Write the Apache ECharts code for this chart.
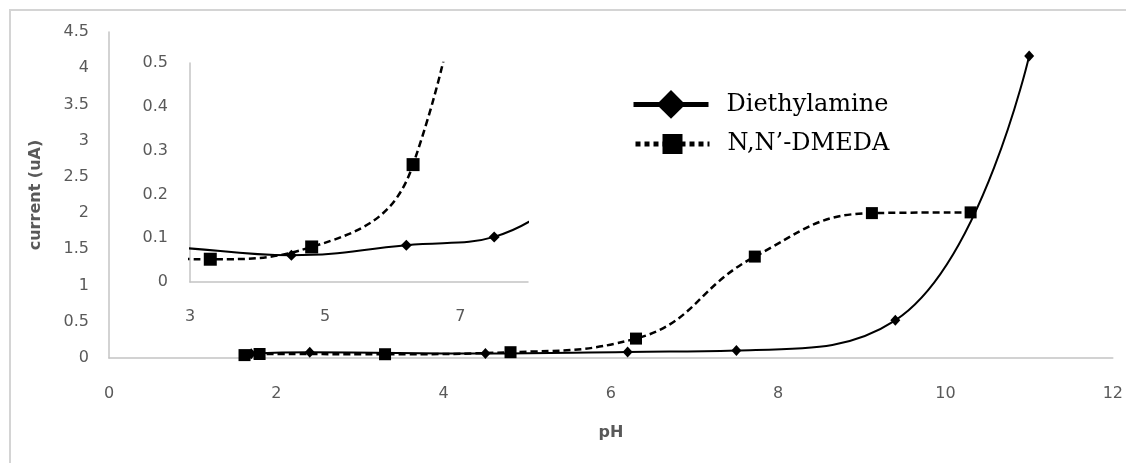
<!DOCTYPE html>
<html>
<head>
<meta charset="utf-8">
<script src="https://cdn.jsdelivr.net/npm/echarts@6/dist/echarts.min.js"></script>
<style>html,body{margin:0;padding:0;background:#fff}#c{width:1126px;height:463px}</style>
</head>
<body>
<div id="c"></div>
<script>
// ---- data ----
const seriesNames = ['Diethylamine', 'N,N’-DMEDA'];
const diethylaminePH = [1.7, 2.4, 4.5, 6.2, 7.5, 9.4, 11.0];
const diethylamineCurrent = [0.06, 0.08, 0.061, 0.084, 0.103, 0.52, 4.17];
const dmedaPH = [1.62, 1.8, 3.3, 4.8, 6.3, 7.72, 9.12, 10.3];
const dmedaCurrent = [0.04, 0.055, 0.052, 0.08, 0.268, 1.40, 2.0, 2.01];
// axis ranges [min, max, interval]
const mainXRange = [0, 12, 2];
const mainYRange = [0, 4.5, 0.5];
const insetXRange = [3, 8, 2];
const insetYRange = [0, 0.5, 0.1];
const xTitle = 'pH';
const yTitle = 'current (uA)';

const zip = (xs, ys) => xs.map((x, i) => [x, ys[i]]);
const dieData = zip(diethylaminePH, diethylamineCurrent);
const dmeData = zip(dmedaPH, dmedaCurrent);

const labelStyle = {color: '#595959', fontSize: 16, fontFamily: 'DejaVu Sans'};
const axisLineStyle = {lineStyle: {color: '#c4c4c4', width: 1.5}};
const SMOOTH = 0.45;

function valueAxis(grid, r, extra) {
  return Object.assign({
    type: 'value', gridIndex: grid, min: r[0], max: r[1], interval: r[2],
    axisLine: Object.assign({show: true, onZero: false}, axisLineStyle),
    axisTick: {show: false},
    splitLine: {show: false}
  }, extra);
}

const chart = echarts.init(document.getElementById('c'), null, {renderer: 'canvas'});
chart.setOption({
  animation: false,
  backgroundColor: '#ffffff',
  graphic: [{
    type: 'rect', silent: true, z: -10,
    shape: {x: 10, y: 10, width: 1200, height: 500},
    style: {fill: null, stroke: '#d4d4d4', lineWidth: 2}
  }],
  grid: [
    {left: 109, right: 11, top: 32, bottom: 105},
    {left: 190, right: 598, top: 63, bottom: 181}
  ],
  xAxis: [
    valueAxis(0, mainXRange, {
      axisLabel: Object.assign({margin: 28}, labelStyle),
      name: xTitle, nameLocation: 'middle', nameGap: 67,
      nameTextStyle: {fontWeight: 'bold', fontSize: 16, color: '#595959', fontFamily: 'DejaVu Sans'}
    }),
    valueAxis(1, insetXRange, {
      axisLabel: Object.assign({margin: 27, showMaxLabel: false}, labelStyle)
    })
  ],
  yAxis: [
    valueAxis(0, mainYRange, {
      axisLabel: Object.assign({margin: 20}, labelStyle),
      name: yTitle, nameLocation: 'middle', nameGap: 65, nameRotate: 90,
      nameTextStyle: {fontWeight: 'bold', fontSize: 16, color: '#595959', fontFamily: 'DejaVu Sans'}
    }),
    valueAxis(1, insetYRange, {
      axisLabel: Object.assign({margin: 22}, labelStyle)
    })
  ],
  legend: [
    {
      data: [seriesNames[0]], selectedMode: false, padding: 0,
      left: 631, top: 90, itemWidth: 75, itemHeight: 36,
      lineStyle: {width: 5, type: 'solid', color: '#000'},
      itemStyle: {color: '#000'},
      textStyle: {fontFamily: 'DejaVu Serif', fontSize: 24, color: '#000', padding: [0, 0, 0, 13]}
    },
    {
      data: [seriesNames[1]], selectedMode: false, padding: 0,
      left: 633, top: 132, itemWidth: 74, itemHeight: 25,
      lineStyle: {width: 5, type: [5, 4], color: '#000'},
      itemStyle: {color: '#000'},
      textStyle: {fontFamily: 'DejaVu Serif', fontSize: 24, color: '#000', padding: [0, 0, 0, 13]}
    }
  ],
  series: [
    {
      name: seriesNames[0], type: 'line', xAxisIndex: 0, yAxisIndex: 0,
      data: dieData, smooth: SMOOTH, symbol: 'diamond', symbolSize: [10, 11],
      lineStyle: {color: '#000', width: 2}, itemStyle: {color: '#000'}, clip: true
    },
    {
      name: seriesNames[1], type: 'line', xAxisIndex: 0, yAxisIndex: 0,
      data: dmeData, smooth: SMOOTH, symbol: 'rect', symbolSize: 12,
      lineStyle: {color: '#000', width: 2.5, type: [7, 4]}, itemStyle: {color: '#000'}, clip: true
    },
    {
      name: seriesNames[0], type: 'line', xAxisIndex: 1, yAxisIndex: 1,
      data: dieData, smooth: SMOOTH, symbol: 'diamond', symbolSize: 11,
      lineStyle: {color: '#000', width: 2}, itemStyle: {color: '#000'}, clip: true
    },
    {
      name: seriesNames[1], type: 'line', xAxisIndex: 1, yAxisIndex: 1,
      data: dmeData, smooth: SMOOTH, symbol: 'rect', symbolSize: 13,
      lineStyle: {color: '#000', width: 2.5, type: [7, 4]}, itemStyle: {color: '#000'}, clip: true
    }
  ]
});
</script>
</body>
</html>
